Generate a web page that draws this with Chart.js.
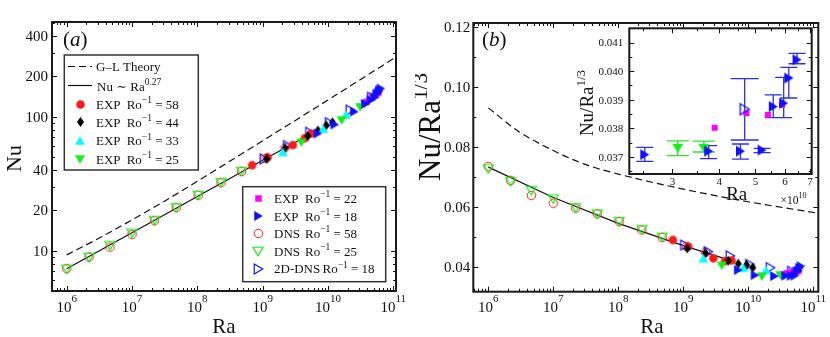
<!DOCTYPE html>
<html>
<head>
<meta charset="utf-8">
<script src="https://cdn.jsdelivr.net/npm/chart.js@4.4.1/dist/chart.umd.min.js"></script>
<style>
  body { margin: 0; background: #fff; }
  #wrap { position: relative; width: 830px; height: 337px; }
  canvas { position: absolute; }
</style>
</head>
<body>
<div id="wrap">
  <canvas id="chartA" width="415" height="337" style="left:0;top:0"></canvas>
  <canvas id="chartB" width="415" height="337" style="left:415px;top:0"></canvas>
  <canvas id="inset" width="250" height="190" style="left:575px;top:20px"></canvas>
</div>
<script>
// values are Ra and Nu/Ra^(1/3) (b) and the inset;
// panel (a) plots Nu = (Nu/Ra^(1/3)) * Ra^(1/3) of the same points
const dns58Ra  = [1e6, 2.2e6, 4.6e6, 1e7, 2.2e7, 4.75e7, 1.03e8, 2.3e8, 4.75e8, 1.12e9, 2.2e9];
const dns58Val = [0.0735, 0.0689, 0.0639, 0.0613, 0.0597, 0.0578, 0.0552, 0.0524, 0.0499, 0.0470, 0.0450];
const dns25Ra  = [1e6, 2.2e6, 4.6e6, 1e7, 2.2e7, 4.75e7, 1.03e8, 2.3e8, 4.75e8];
const dns25Val = [0.0727, 0.0685, 0.0655, 0.0627, 0.0598, 0.0577, 0.0552, 0.0525, 0.0500];
const exp58Ra  = [6.9e8, 1.19e9, 2.9e9, 4.4e9, 5.5e9];
const exp58Val = [0.0491, 0.0469, 0.0430, 0.0421, 0.0423];
const exp44Ra  = [1.15e9, 2.2e9, 4.9e9, 7.0e9, 9.4e9, 1.17e10];
const exp44Val = [0.0463, 0.0447, 0.0422, 0.0412, 0.0408, 0.0399];
const exp33Ra  = [2.03e9, 8.4e9, 1.87e10];
const exp33Val = [0.0430, 0.0399, 0.0391];
const exp25Ra  = [3.9e9, 1.62e10, 3.1e10, 3.64e10];
const exp25Val = [0.0405, 0.0369, 0.0373, 0.0373];
const exp25Lo  = [null, null, 0.03704, 0.03717];
const exp25Hi  = [null, null, 0.03756, 0.03755];
const exp22Ra  = [3.89e10, 4.73e10, 5.40e10, 5.89e10];
const exp22Val = [0.03802, 0.03853, 0.03847, 0.03882];
const exp18Ra  = [7.0e9, 1.27e10, 2.53e10, 3.75e10, 4.56e10, 5.21e10, 5.58e10, 5.95e10, 6.14e10, 6.46e10];
const exp18Val = [0.0391, 0.0374, 0.03708, 0.03720, 0.03720, 0.03724, 0.03876, 0.03888, 0.03976, 0.04040];
const exp18Lo  = [null, null, 0.03684, 0.03694, 0.03692, 0.03715, 0.03837, 0.03837, 0.03906, 0.04026];
const exp18Hi  = [null, null, 0.03733, 0.03739, 0.03745, 0.03730, 0.03917, 0.03978, 0.04013, 0.04062];
const dns2dRa  = [1.06e9, 2.43e9, 5.3e9, 1.06e10, 2.2e10, 4.68e10];
const dns2dVal = [0.0474, 0.0452, 0.0438, 0.0410, 0.0399, 0.03867];
const dns2dLo  = [null, null, null, null, null, 0.03759];
const dns2dHi  = [null, null, null, null, null, 0.03974];
// G-L theory and the Ra^0.27 fit
const glRa   = [1e6, 3e6, 1e7, 3e7, 1e8, 1e9, 1e10, 1.1e11];
const glVal  = [0.0930, 0.0850, 0.0788, 0.0743, 0.0710, 0.0660, 0.0618, 0.0581];
const fitRa  = [1e6, 1e7, 1e8, 1e9, 5e9];
const fitVal = [0.0733, 0.0632, 0.0546, 0.0472, 0.0425];

const yTicksA = [10, 20, 40, 100, 200, 400];
const yTicksB = [0.04, 0.06, 0.08, 0.10, 0.12];
const yTicksInset = [0.037, 0.038, 0.039, 0.040, 0.041];
const xTicksInset = [3, 4, 5, 6, 7];

const SERIF = '"Liberation Serif", "DejaVu Serif", serif';
const RED = '#ff1a1a', BLACK = '#000', CYAN = '#00ffff', GREEN = '#14f014', MAGENTA = '#ff00ff', BLUE = '#1010ff';

function marker(shape, w, h, fill, stroke, lw) {
  const pad = 2;
  const c = document.createElement('canvas');
  c.width = Math.ceil(w + 2 * pad);
  c.height = Math.ceil(h + 2 * pad);
  const g = c.getContext('2d');
  const cx = c.width / 2, cy = c.height / 2, a = w / 2, b = h / 2;
  g.beginPath();
  if (shape === 'circle') g.ellipse(cx, cy, a, b, 0, 0, Math.PI * 2);
  else if (shape === 'square') g.rect(cx - a, cy - b, w, h);
  else if (shape === 'diamond') { g.moveTo(cx, cy - b); g.lineTo(cx + a, cy); g.lineTo(cx, cy + b); g.lineTo(cx - a, cy); }
  else if (shape === 'up') { g.moveTo(cx, cy - b); g.lineTo(cx + a, cy + b); g.lineTo(cx - a, cy + b); }
  else if (shape === 'down') { g.moveTo(cx - a, cy - b); g.lineTo(cx + a, cy - b); g.lineTo(cx, cy + b); }
  else if (shape === 'right') { g.moveTo(cx - a, cy - b); g.lineTo(cx + a, cy); g.lineTo(cx - a, cy + b); }
  g.closePath();
  if (fill) { g.fillStyle = fill; g.fill(); }
  if (stroke) { g.strokeStyle = stroke; g.lineWidth = lw; g.stroke(); }
  return c;
}

const mk = {
  exp58: marker('circle', 8.5, 8.5, RED),
  exp44: marker('diamond', 7, 10, BLACK),
  exp33: marker('up', 10, 8.5, CYAN),
  exp25: marker('down', 10, 8.5, GREEN),
  exp22: marker('square', 6.5, 6.5, MAGENTA),
  exp18: marker('right', 8.5, 10, BLUE),
  dns58: marker('circle', 8.5, 8.5, null, RED, 1),
  dns25: marker('down', 10, 8.5, null, GREEN, 1.2),
  dns2d: marker('right', 8.5, 10, null, BLUE, 1.2)
};
const mkIn = {
  exp25: marker('down', 11, 9, GREEN),
  exp22: marker('square', 6, 6, MAGENTA),
  exp18: marker('right', 9, 11, BLUE),
  dns2d: marker('right', 9, 11, null, BLUE, 1.3)
};

function pts(ra, val, nu) {
  return ra.map((r, i) => ({ x: r, y: nu ? val[i] * Math.cbrt(r) : val[i] }));
}

function scatterSets(nu) {
  const s = (ra, val, m) => ({ data: pts(ra, val, nu), pointStyle: m, pointRadius: 5, showLine: false, order: 1 });
  return [
    s(exp18Ra, exp18Val, mk.exp18),
    s(exp22Ra, exp22Val, mk.exp22),
    s(exp25Ra, exp25Val, mk.exp25),
    s(exp33Ra, exp33Val, mk.exp33),
    s(exp44Ra, exp44Val, mk.exp44),
    s(exp58Ra, exp58Val, mk.exp58),
    s(dns2dRa, dns2dVal, mk.dns2d),
    s(dns25Ra, dns25Val, mk.dns25),
    s(dns58Ra, dns58Val, mk.dns58)
  ];
}

function lineSets(nu) {
  return [
    { data: pts(glRa, glVal, nu), showLine: true, pointRadius: 0, borderColor: '#111', borderWidth: 1.2,
      borderDash: [7, 4], cubicInterpolationMode: 'monotone', order: 5 },
    { data: pts(fitRa, fitVal, nu), showLine: true, pointRadius: 0, borderColor: '#111', borderWidth: 1.2, order: 5 }
  ];
}

function axis(type, min, max, fit) {
  return { type, min, max, grid: { display: false }, border: { display: false }, ticks: { display: false }, afterFit: fit };
}

function rich(ctx, x, y, parts, align) {
  const font = p => (p[3] ? 'italic ' : '') + p[1] + 'px ' + SERIF;
  let w = 0;
  parts.forEach(p => { ctx.font = font(p); w += ctx.measureText(p[0]).width; });
  let cx = align === 'center' ? x - w / 2 : align === 'right' ? x - w : x;
  ctx.textAlign = 'left';
  ctx.textBaseline = 'alphabetic';
  parts.forEach(p => {
    ctx.font = font(p);
    ctx.fillText(p[0], cx, y - (p[2] || 0));
    cx += ctx.measureText(p[0]).width;
  });
  return w;
}

function logMinor(scale, d0, d1) {
  const out = [];
  for (let d = d0; d <= d1; d++) for (let m = 2; m <= 9; m++) {
    const v = m * Math.pow(10, d);
    if (v > scale.min && v < scale.max) out.push(v);
  }
  return out;
}

function drawTicks(ctx, a, xs, ys, xMaj, xMin, yMaj, yMin, big, small) {
  ctx.save();
  ctx.strokeStyle = '#111';
  ctx.lineWidth = 1;
  ctx.beginPath();
  const vx = (list, len) => list.forEach(v => {
    const p = Math.round(xs.getPixelForValue(v)) + 0.5;
    ctx.moveTo(p, a.bottom); ctx.lineTo(p, a.bottom - len);
    ctx.moveTo(p, a.top); ctx.lineTo(p, a.top + len);
  });
  const vy = (list, len) => list.forEach(v => {
    const p = Math.round(ys.getPixelForValue(v)) + 0.5;
    ctx.moveTo(a.left, p); ctx.lineTo(a.left + len, p);
    ctx.moveTo(a.right, p); ctx.lineTo(a.right - len, p);
  });
  vx(xMaj, big); vx(xMin, small); vy(yMaj, big); vy(yMin, small);
  ctx.stroke();
  ctx.lineWidth = 2;
  ctx.strokeStyle = '#1a1a1a';
  ctx.strokeRect(a.left, a.top, a.right - a.left, a.bottom - a.top);
  ctx.restore();
}

function decadeLabels(ctx, xs, y) {
  ctx.fillStyle = '#111';
  for (let e = 6; e <= 11; e++) {
    rich(ctx, xs.getPixelForValue(Math.pow(10, e)), y, [['10', 15], [String(e), 11, 9.5]], 'center');
  }
}

function rotated(ctx, x, y, parts) {
  ctx.save();
  ctx.translate(x, y);
  ctx.rotate(-Math.PI / 2);
  rich(ctx, 0, 0, parts, 'center');
  ctx.restore();
}

function legendBox(ctx, x0, y0, x1, y1) {
  ctx.save();
  ctx.fillStyle = '#fff';
  ctx.fillRect(x0, y0, x1 - x0, y1 - y0);
  ctx.strokeStyle = '#333';
  ctx.lineWidth = 1.5;
  ctx.strokeRect(x0, y0, x1 - x0, y1 - y0);
  ctx.restore();
}

function legendRow(ctx, m, mx, y, label, tx, rx, num) {
  ctx.drawImage(m, Math.round(mx - m.width / 2), Math.round(y - m.height / 2));
  ctx.fillStyle = '#111';
  rich(ctx, tx, y + 4.5, [[label, 13]]);
  rich(ctx, rx, y + 4.5, [['Ro', 13], ['\u22121', 9.5, 5.5], [' = ' + num, 13]]);
}

const decorA = {
  id: 'decorA',
  afterDraw(chart) {
    const { ctx, chartArea: a, scales: { x, y } } = chart;
    drawTicks(ctx, a, x, y, [1e6, 1e7, 1e8, 1e9, 1e10, 1e11], logMinor(x, 5, 11),
      yTicksA, [5, 6, 7, 8, 9, 30, 50, 60, 70, 80, 90, 300, 500], 5, 3);
    ctx.fillStyle = '#111';
    yTicksA.forEach(v => {
      ctx.font = '15px ' + SERIF;
      ctx.textAlign = 'right';
      ctx.textBaseline = 'middle';
      ctx.fillText(String(v), a.left - 4, y.getPixelForValue(v) + 1);
    });
    decadeLabels(ctx, x, 311.5);
    rich(ctx, (a.left + a.right) / 2, 333, [['Ra', 21]], 'center');
    rotated(ctx, 20.5, 158.5, [['Nu', 22]]);
    rich(ctx, 63, 46, [['(', 21], ['a', 21, 0, true], [')', 21]]);

    // legend 1
    legendBox(ctx, 64.3, 55, 198.3, 170);
    ctx.save();
    ctx.strokeStyle = '#111';
    ctx.lineWidth = 1.2;
    ctx.setLineDash([7, 4]);
    ctx.beginPath(); ctx.moveTo(68, 66.5); ctx.lineTo(92, 66.5); ctx.stroke();
    ctx.setLineDash([]);
    ctx.beginPath(); ctx.moveTo(68, 85.5); ctx.lineTo(92, 85.5); ctx.stroke();
    ctx.restore();
    ctx.fillStyle = '#111';
    rich(ctx, 96, 71, [['G\u2013L Theory', 13]]);
    rich(ctx, 97, 90.5, [['Nu \u223c Ra', 13], ['0.27', 9.5, 5.5]]);
    legendRow(ctx, mk.exp58, 80, 104, 'EXP', 96, 126.7, '58');
    legendRow(ctx, mk.exp44, 80, 122.3, 'EXP', 96, 126.7, '44');
    legendRow(ctx, mk.exp33, 80, 140.7, 'EXP', 96, 126.7, '33');
    legendRow(ctx, mk.exp25, 80, 159, 'EXP', 96, 126.7, '25');

    // legend 2
    legendBox(ctx, 242.7, 186.7, 385.7, 281.7);
    legendRow(ctx, mk.exp22, 258.3, 198.3, 'EXP', 274, 305, '22');
    legendRow(ctx, mk.exp18, 258.3, 216, 'EXP', 274, 305, '18');
    legendRow(ctx, mk.dns58, 258.3, 233.3, 'DNS', 274, 305, '58');
    legendRow(ctx, mk.dns25, 258.3, 251, 'DNS', 274, 305, '25');
    legendRow(ctx, mk.dns2d, 258.3, 268.7, '2D-DNS', 274, 322.5, '18');
  }
};

const decorB = {
  id: 'decorB',
  afterDraw(chart) {
    const { ctx, chartArea: a, scales: { x, y } } = chart;
    drawTicks(ctx, a, x, y, [1e6, 1e7, 1e8, 1e9, 1e10, 1e11], logMinor(x, 5, 11),
      yTicksB, [0.05, 0.07, 0.09, 0.11], 5, 3);
    ctx.fillStyle = '#111';
    yTicksB.forEach(v => {
      ctx.font = '15px ' + SERIF;
      ctx.textAlign = 'right';
      ctx.textBaseline = 'middle';
      ctx.fillText(v.toFixed(2), a.left - 3, y.getPixelForValue(v) + 1);
    });
    decadeLabels(ctx, x, 311.5);
    rich(ctx, 237, 333, [['Ra', 21]], 'center');
    rotated(ctx, 25, 127, [['Nu/Ra', 31], ['1/3', 21, 13]]);
    rich(ctx, 67, 46, [['(', 21], ['b', 21, 0, true], [')', 21]]);
  }
};

const errSets = [
  { ra: exp25Ra, lo: exp25Lo, hi: exp25Hi, color: '#33dd33', cap: 22 },
  { ra: exp18Ra, lo: exp18Lo, hi: exp18Hi, color: '#2d2df0', cap: 17 },
  { ra: dns2dRa, lo: dns2dLo, hi: dns2dHi, color: '#2d2df0', cap: 28 }
];

const decorInset = {
  id: 'decorInset',
  beforeDatasetsDraw(chart) {
    const { ctx, chartArea: a, scales: { x, y } } = chart;
    ctx.save();
    ctx.fillStyle = '#fff';
    ctx.fillRect(a.left, a.top, a.right - a.left, a.bottom - a.top);
    ctx.beginPath();
    ctx.rect(a.left, a.top, a.right - a.left, a.bottom - a.top);
    ctx.clip();
    ctx.lineWidth = 1.3;
    errSets.forEach(s => {
      ctx.strokeStyle = s.color;
      ctx.beginPath();
      s.ra.forEach((r, i) => {
        if (s.lo[i] == null) return;
        const px = x.getPixelForValue(r), p1 = y.getPixelForValue(s.lo[i]), p2 = y.getPixelForValue(s.hi[i]);
        ctx.moveTo(px, p1); ctx.lineTo(px, p2);
        ctx.moveTo(px - s.cap / 2, p1); ctx.lineTo(px + s.cap / 2, p1);
        ctx.moveTo(px - s.cap / 2, p2); ctx.lineTo(px + s.cap / 2, p2);
      });
      ctx.stroke();
    });
    ctx.restore();
  },
  afterDraw(chart) {
    const { ctx, chartArea: a, scales: { x, y } } = chart;
    drawTicks(ctx, a, x, y, xTicksInset.map(v => v * 1e10), [2.5e10, 3.5e10, 4.5e10, 5.5e10, 6.5e10],
      yTicksInset, [0.0365, 0.0375, 0.0385, 0.0395, 0.0405, 0.0415], 5, 3);
    ctx.fillStyle = '#111';
    yTicksInset.forEach(v => {
      ctx.font = '11px ' + SERIF;
      ctx.textAlign = 'right';
      ctx.textBaseline = 'middle';
      ctx.fillText(v.toFixed(3), a.left - 6, y.getPixelForValue(v) + 1);
    });
    xTicksInset.forEach(v => {
      ctx.font = '11px ' + SERIF;
      ctx.textAlign = 'center';
      ctx.textBaseline = 'middle';
      ctx.fillText(String(v), x.getPixelForValue(v * 1e10), 162);
    });
    rich(ctx, 161.7, 180, [['Ra', 19]], 'center');
    rich(ctx, 205.5, 183.5, [['\u00d710', 11.5], ['10', 8, 5.5]]);
    rotated(ctx, 18, 83, [['Nu/Ra', 19], ['1/3', 13, 8]]);
  }
};

const common = {
  responsive: false,
  animation: false,
  events: [],
  plugins: { legend: { display: false }, tooltip: { enabled: false } }
};

new Chart(document.getElementById('chartA'), {
  type: 'scatter',
  data: { datasets: lineSets(true).concat(scatterSets(true)) },
  options: Object.assign({}, common, {
    layout: { padding: { left: 0, right: 19, top: 22, bottom: 0 } },
    scales: {
      x: axis('logarithmic', Math.pow(10, 5.775), Math.pow(10, 11.041), s => { s.height = 46; }),
      y: axis('logarithmic', 5, 508, s => { s.width = 52; })
    }
  }),
  plugins: [decorA]
});

new Chart(document.getElementById('chartB'), {
  type: 'scatter',
  data: { datasets: lineSets(false).concat(scatterSets(false)) },
  options: Object.assign({}, common, {
    layout: { padding: { left: 0, right: 11.7, top: 23, bottom: 0 } },
    scales: {
      x: axis('logarithmic', Math.pow(10, 5.769), Math.pow(10, 11.077), s => { s.height = 45.3; }),
      y: axis('linear', 0.0319, 0.1212, s => { s.width = 58.3; })
    }
  }),
  plugins: [decorB]
});

const insetSet = (ra, val, m) => ({ data: pts(ra, val, false), pointStyle: m, pointRadius: 6, showLine: false });
new Chart(document.getElementById('inset'), {
  type: 'scatter',
  data: {
    datasets: [
      insetSet(exp18Ra, exp18Val, mkIn.exp18),
      insetSet(dns2dRa, dns2dVal, mkIn.dns2d),
      insetSet(exp22Ra, exp22Val, mkIn.exp22),
      insetSet(exp25Ra, exp25Val, mkIn.exp25)
    ]
  },
  options: Object.assign({}, common, {
    layout: { padding: { left: 0, right: 13.3, top: 8.3, bottom: 0 } },
    scales: {
      x: axis('logarithmic', 2.3e10, 7.07e10, s => { s.height = 36; }),
      y: axis('linear', 0.0364, 0.0415, s => { s.width = 54.3; })
    }
  }),
  plugins: [decorInset]
});
</script>
</body>
</html>
